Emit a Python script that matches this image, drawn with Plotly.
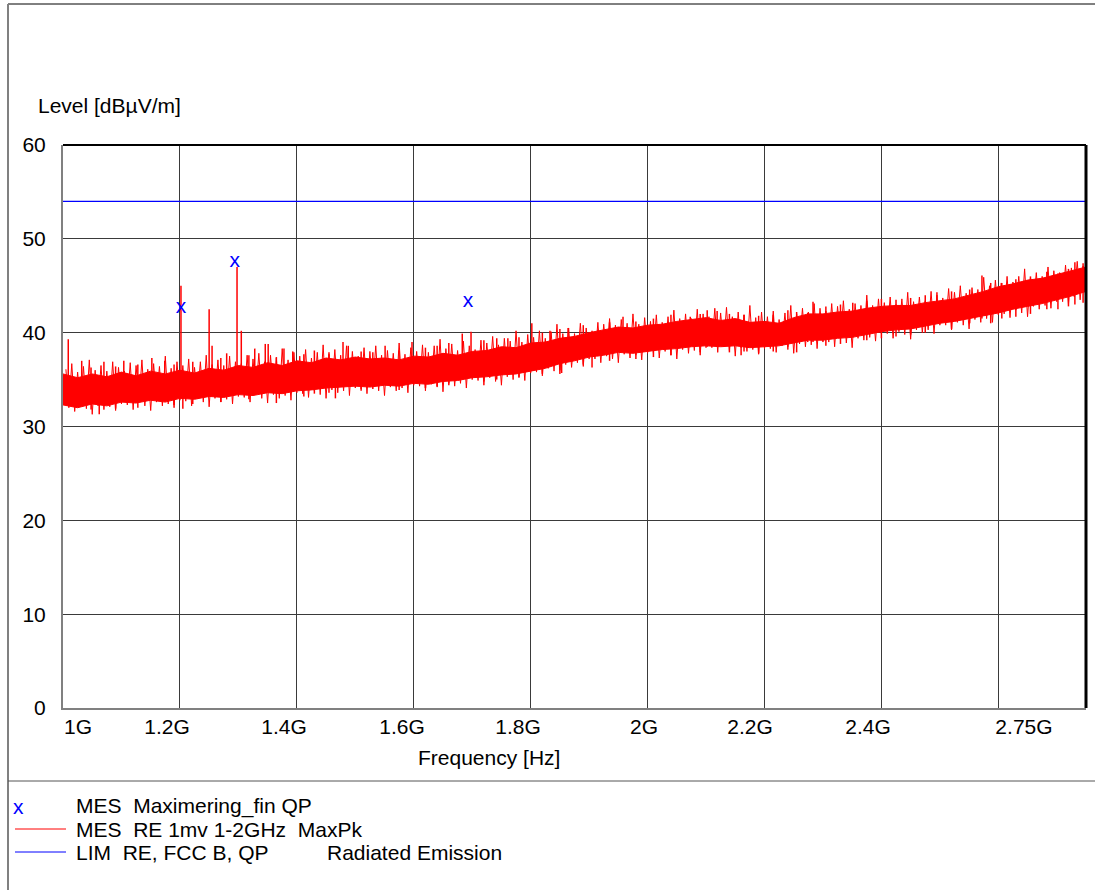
import numpy as np
import plotly.graph_objects as go

# ---------------- data ----------------
# envelope of the MaxPk sweep body (GHz, dBuV/m)
band_freq = [1.000, 1.025, 1.050, 1.075, 1.100, 1.125, 1.150, 1.175, 1.200, 1.225,
             1.250, 1.275, 1.300, 1.325, 1.350, 1.375, 1.400, 1.425, 1.450, 1.475,
             1.500, 1.525, 1.550, 1.575, 1.600, 1.625, 1.650, 1.675, 1.700, 1.725,
             1.750, 1.775, 1.800, 1.825, 1.850, 1.875, 1.900, 1.925, 1.950, 1.975,
             2.000, 2.025, 2.050, 2.075, 2.100, 2.125, 2.150, 2.175, 2.200, 2.225,
             2.250, 2.275, 2.300, 2.325, 2.350, 2.375, 2.400, 2.425, 2.450, 2.475,
             2.500, 2.525, 2.550, 2.575, 2.600, 2.625, 2.650, 2.675, 2.700, 2.725,
             2.750]
band_top = [35.6, 35.2, 35.6, 35.3, 35.8, 35.4, 35.9, 35.6, 36.0, 35.7,
            36.2, 36.0, 36.5, 36.3, 36.8, 36.5, 37.0, 36.8, 37.3, 37.1,
            37.4, 37.2, 37.3, 37.1, 37.5, 37.4, 37.8, 37.6, 38.0, 38.1,
            38.5, 38.4, 38.9, 39.0, 39.4, 39.6, 40.0, 40.3, 40.6, 40.5,
            40.8, 40.9, 41.2, 41.4, 41.6, 41.3, 41.5, 41.1, 41.2, 41.0,
            41.6, 42.0, 42.0, 42.2, 42.3, 42.6, 42.8, 42.9, 42.9, 43.2,
            43.4, 43.6, 44.0, 44.4, 44.9, 45.2, 45.6, 45.8, 46.2, 46.6,
            47.0]
band_bottom = [32.3, 32.0, 32.4, 32.2, 32.6, 32.5, 32.8, 32.6, 33.0, 32.9,
               33.2, 33.1, 33.4, 33.3, 33.6, 33.5, 33.8, 33.9, 34.1, 34.2,
               34.3, 34.2, 34.4, 34.3, 34.6, 34.5, 34.8, 34.9, 35.2, 35.3,
               35.5, 35.6, 35.9, 36.2, 36.7, 37.0, 37.4, 37.6, 37.9, 37.8,
               38.0, 38.2, 38.3, 38.5, 38.6, 38.5, 38.6, 38.4, 38.5, 38.6,
               38.9, 39.2, 39.2, 39.4, 39.5, 39.8, 40.1, 40.3, 40.4, 40.7,
               41.0, 41.2, 41.5, 41.8, 42.1, 42.5, 42.8, 43.1, 43.5, 43.9,
               44.4]

# sweep noise: alternating high / low samples, 1.005 .. 2.750 GHz every 5 MHz
noise_high = [36.1, 36.7, 35.8, 36.4, 37.1, 36.0, 36.5, 35.9, 36.9, 36.3,
              35.9, 36.8, 36.5, 37.1, 36.1, 36.7, 36.4, 37.5, 36.2, 36.9,
              36.5, 37.2, 36.3, 36.9, 37.6, 36.6, 37.1, 36.5, 37.5, 36.9,
              36.7, 37.6, 37.2, 37.8, 36.9, 37.6, 37.3, 38.3, 37.1, 37.9,
              37.5, 38.2, 37.3, 37.9, 38.7, 37.7, 38.2, 37.6, 38.6, 38.0,
              37.5, 38.4, 38.0, 38.6, 37.6, 38.1, 37.8, 38.9, 37.7, 38.4,
              38.0, 38.7, 37.9, 38.6, 39.3, 38.3, 38.8, 38.1, 39.1, 38.6,
              38.2, 39.2, 38.9, 39.6, 38.7, 39.4, 39.1, 40.2, 39.0, 39.8,
              39.5, 40.2, 39.4, 40.1, 40.9, 39.9, 40.5, 39.9, 41.0, 40.5,
              40.2, 41.1, 40.9, 41.5, 40.8, 41.4, 41.0, 42.0, 40.9, 41.6,
              41.2, 41.9, 41.1, 41.7, 42.4, 41.5, 42.0, 41.5, 42.5, 42.0,
              41.7, 42.6, 42.1, 42.7, 41.7, 42.2, 41.9, 42.9, 41.6, 42.2,
              41.7, 42.3, 41.4, 42.1, 42.9, 42.0, 42.6, 42.2, 43.1, 42.6,
              42.3, 43.1, 42.8, 43.4, 42.5, 43.1, 42.9, 44.0, 42.9, 43.6,
              43.2, 43.8, 43.0, 43.6, 44.3, 43.3, 43.8, 43.4, 44.4, 44.0,
              43.7, 44.7, 44.3, 45.0, 44.2, 44.8, 44.6, 45.9, 45.0, 45.6,
              45.3, 46.0, 45.4, 46.0, 46.8, 45.9, 46.4, 46.0, 47.0, 46.6,
              46.4, 47.2, 46.9, 47.6, 47.1]
noise_low = [32.0, 31.6, 32.3, 31.9, 31.3, 32.2, 31.8, 32.1, 31.7, 32.4,
             32.3, 31.8, 32.6, 32.2, 31.7, 32.6, 32.2, 32.4, 32.0, 32.8,
             32.7, 32.2, 33.0, 32.6, 32.1, 33.0, 32.6, 32.9, 32.4, 33.2,
             33.1, 32.6, 33.4, 33.0, 32.5, 33.4, 33.0, 33.3, 32.8, 33.6,
             33.5, 33.1, 33.8, 33.4, 33.0, 33.9, 33.6, 33.8, 33.3, 34.1,
             34.0, 33.5, 34.2, 33.8, 33.3, 34.2, 33.8, 34.1, 33.6, 34.4,
             34.3, 33.8, 34.5, 34.2, 33.7, 34.6, 34.3, 34.6, 34.1, 35.0,
             34.9, 34.4, 35.2, 34.8, 34.4, 35.3, 35.0, 35.3, 34.9, 35.7,
             35.8, 35.4, 36.2, 35.9, 35.6, 36.6, 36.3, 36.8, 36.4, 37.2,
             37.2, 36.8, 37.5, 37.2, 36.8, 37.7, 37.3, 37.6, 37.1, 37.8,
             37.8, 37.3, 38.0, 37.6, 37.2, 38.2, 37.8, 38.1, 37.6, 38.4,
             38.4, 37.9, 38.5, 38.1, 37.5, 38.4, 38.0, 38.2, 37.7, 38.3,
             38.3, 37.9, 38.6, 38.2, 37.8, 38.8, 38.5, 38.7, 38.3, 39.0,
             39.0, 38.5, 39.3, 38.9, 38.4, 39.4, 39.2, 39.5, 39.1, 39.9,
             39.9, 39.4, 40.1, 39.8, 39.3, 40.3, 40.0, 40.3, 39.9, 40.8,
             40.8, 40.3, 41.1, 40.8, 40.4, 41.4, 41.1, 41.5, 41.1, 41.9,
             42.0, 41.6, 42.4, 42.1, 41.7, 42.8, 42.5, 42.9, 42.6, 43.3,
             43.3, 43.0, 43.8, 43.5, 43.3]

# isolated peaks of the sweep (GHz, low dB, high dB)
spike_freq = [1.009, 1.032, 1.048, 1.062, 1.070, 1.090, 1.104, 1.128, 1.152, 1.174,
              1.190, 1.2018, 1.205, 1.222, 1.250, 1.255, 1.270, 1.280, 1.2977, 1.305,
              1.318, 1.328, 1.346, 1.351, 1.365, 1.378, 1.393, 1.412, 1.430, 1.455,
              1.466, 1.479, 1.488, 1.510, 1.530, 1.551, 1.575, 1.597, 1.620, 1.640,
              1.660, 1.683, 1.698, 1.720, 1.742, 1.761, 1.780, 1.802, 1.820, 1.833,
              1.850, 1.853, 1.864, 1.890, 1.905, 1.915, 1.935, 1.958, 1.980, 2.010,
              2.040, 2.073, 2.090, 2.102, 2.119, 2.140, 2.160, 2.165, 2.190, 2.215,
              2.240, 2.255, 2.274, 2.283, 2.305, 2.330, 2.351, 2.375, 2.400, 2.425,
              2.450, 2.475, 2.495, 2.520, 2.551, 2.572, 2.587, 2.606, 2.630, 2.655,
              2.683, 2.702, 2.720, 2.731, 2.745]
spike_low = [33.5, 33.0, 31.8, 31.3, 32.5, 31.9, 33.0, 32.0, 33.2, 33.0,
             32.3, 33.5, 31.9, 32.4, 34.0, 34.0, 32.6, 33.5, 34.0, 34.0,
             32.9, 34.0, 34.2, 34.2, 32.5, 34.5, 34.5, 33.2, 33.5, 33.6,
             33.0, 35.0, 35.0, 33.8, 34.0, 35.0, 33.9, 35.0, 34.1, 34.3,
             34.4, 36.0, 36.0, 34.8, 35.0, 35.5, 35.2, 36.0, 35.6, 36.5,
             36.0, 35.7, 37.0, 36.6, 36.3, 37.5, 37.0, 38.0, 37.2, 37.4,
             37.6, 38.5, 37.9, 38.5, 38.5, 37.9, 37.6, 38.0, 37.8, 38.0,
             38.5, 37.9, 39.0, 39.0, 38.6, 38.8, 39.5, 39.2, 39.4, 39.6,
             39.8, 40.0, 41.0, 40.4, 41.0, 41.5, 41.0, 41.5, 41.7, 42.0,
             42.5, 42.5, 42.8, 43.0, 43.2]
spike_high = [39.3, 37.0, 36.3, 34.0, 36.9, 36.4, 37.0, 36.6, 37.3, 37.0,
              36.6, 45.0, 34.5, 36.9, 42.5, 38.6, 37.3, 37.8, 47.0, 40.2,
              37.6, 38.3, 38.8, 38.8, 37.4, 38.3, 38.0, 37.7, 38.1, 37.9,
              35.5, 39.0, 38.6, 38.0, 37.9, 38.6, 38.1, 39.0, 38.4, 38.6,
              38.9, 39.9, 40.1, 39.2, 39.4, 39.4, 39.5, 41.0, 40.0, 40.2,
              40.4, 38.0, 40.5, 40.8, 38.5, 40.3, 41.1, 41.7, 41.2, 41.5,
              41.9, 41.7, 42.0, 42.4, 42.3, 42.0, 40.0, 41.9, 41.8, 41.9,
              42.4, 42.2, 42.1, 43.3, 42.8, 43.0, 43.2, 43.4, 43.6, 43.5,
              43.7, 44.0, 44.3, 44.4, 44.6, 46.1, 45.3, 45.3, 45.7, 46.0,
              46.5, 46.3, 46.8, 47.5, 47.4]

# final quasi-peak measurements
qp_freq = [1.2018, 1.294, 1.693]
qp_level = [42.7, 47.6, 43.3]

# limit line FCC class B
lim_freq = [1.0, 2.75]
lim_level = [54.0, 54.0]

# axes
x_range = [1.0, 2.75]
y_range = [0, 60]
grid_freq = [1.2, 1.4, 1.6, 1.8, 2.0, 2.2, 2.4, 2.6]
tick_label_freq = [1.0257, 1.1779, 1.3780, 1.5799, 1.7783, 1.9939, 2.1752, 2.3771, 2.6439]
tick_labels = ["1G", "1.2G", "1.4G", "1.6G", "1.8G", "2G", "2.2G", "2.4G", "2.75G"]

legend_texts = ["MES  Maximering_fin QP", "MES  RE 1mv 1-2GHz  MaxPk", "LIM  RE, FCC B, QP"]
legend_extra = "Radiated Emission"

# ---------------- figure ----------------
FONT = "Arial, 'Liberation Sans', Helvetica, sans-serif"
FS = 21
W, H = 1095, 890
L, R, T, B = 63, 1086, 145, 708


def px(xp):
    return (xp - L) / (R - L)


def py(yp):
    return (B - yp) / (B - T)


RED = "#ff0000"
BLUE = "#0000ff"

fig = go.Figure()

# band body
fig.add_trace(go.Scatter(
    x=band_freq + band_freq[::-1],
    y=band_top + band_bottom[::-1],
    fill="toself", fillcolor=RED, mode="lines",
    line=dict(color=RED, width=1), hoverinfo="skip", showlegend=False))

# sweep noise (zig-zag between high and low samples)
hi_f = np.round(np.arange(len(noise_high)) * 0.01 + 1.005, 3)
lo_f = np.round(np.arange(len(noise_low)) * 0.01 + 1.010, 3)
nx, ny = [], []
for fh, vh, fl, vl in zip(hi_f, noise_high, lo_f, noise_low):
    nx += [float(fh), float(fl)]
    ny += [vh, vl]
fig.add_trace(go.Scatter(x=nx, y=ny, mode="lines",
                         line=dict(color=RED, width=1),
                         hoverinfo="skip", showlegend=False))

# peaks and dips
sx, sy = [], []
for f, lo, hi in zip(spike_freq, spike_low, spike_high):
    sx += [f, f, None]
    sy += [lo, hi, None]
fig.add_trace(go.Scatter(x=sx, y=sy, mode="lines",
                         line=dict(color=RED, width=1.5),
                         hoverinfo="skip", showlegend=False))

# limit
fig.add_trace(go.Scatter(x=lim_freq, y=lim_level, mode="lines", xaxis="x2",
                         line=dict(color=BLUE, width=1.2), showlegend=False))

# QP markers
fig.add_trace(go.Scatter(x=qp_freq, y=qp_level, mode="text", text=["x"] * len(qp_freq),
                         textposition="middle center",
                         textfont=dict(family=FONT, size=FS, color=BLUE),
                         showlegend=False))

annotations = [
    dict(text="Level [dBµV/m]", x=px(36), y=py(105), xref="paper", yref="paper",
         xanchor="left", yanchor="middle", showarrow=False,
         font=dict(family=FONT, size=FS, color="black")),
    dict(text="Frequency [Hz]", x=px(489), y=py(757), xref="paper", yref="paper",
         xanchor="center", yanchor="middle", showarrow=False,
         font=dict(family=FONT, size=FS, color="black")),
    dict(text="x", x=px(18), y=py(806), xref="paper", yref="paper",
         xanchor="center", yanchor="middle", showarrow=False,
         font=dict(family=FONT, size=FS, color=BLUE)),
]
rows = [806, 829, 852]
for t, r in zip(legend_texts, rows):
    annotations.append(dict(text=t, x=px(74), y=py(r), xref="paper", yref="paper",
                            xanchor="left", yanchor="middle", showarrow=False,
                            font=dict(family=FONT, size=FS, color="black")))
annotations.append(dict(text=legend_extra, x=px(325), y=py(852), xref="paper", yref="paper",
                        xanchor="left", yanchor="middle", showarrow=False,
                        font=dict(family=FONT, size=FS, color="black")))

shapes = [
    # plot frame top / right
    dict(type="line", xref="paper", yref="paper", x0=0, x1=1, y0=1, y1=1,
         line=dict(color="black", width=2)),
    dict(type="line", xref="paper", yref="paper", x0=1, x1=1, y0=0, y1=1,
         line=dict(color="black", width=3)),
    # outer frame
    dict(type="line", xref="paper", yref="paper", x0=px(8), x1=px(1095), y0=py(4), y1=py(4),
         line=dict(color="black", width=1)),
    dict(type="line", xref="paper", yref="paper", x0=px(8), x1=px(8), y0=py(4), y1=py(890),
         line=dict(color="#808080", width=2)),
    dict(type="line", xref="paper", yref="paper", x0=px(8), x1=px(1095), y0=py(781), y1=py(781),
         line=dict(color="#555555", width=1)),
    # legend symbols
    dict(type="line", xref="paper", yref="paper", x0=px(15), x1=px(66), y0=py(829), y1=py(829),
         line=dict(color=RED, width=1)),
    dict(type="line", xref="paper", yref="paper", x0=px(15), x1=px(66), y0=py(852), y1=py(852),
         line=dict(color=BLUE, width=1)),
]

fig.update_layout(
    width=W, height=H, autosize=False,
    margin=dict(l=L, r=W - R, t=T, b=H - B, pad=0),
    paper_bgcolor="white", plot_bgcolor="white",
    font=dict(family=FONT, size=FS, color="black"),
    showlegend=False,
    xaxis=dict(range=x_range, tickmode="array", tickvals=grid_freq,
               showticklabels=False, ticks="", showgrid=True,
               gridcolor="#3a3a3a", gridwidth=1, zeroline=False,
               showline=True, linecolor="#808080", linewidth=2),
    xaxis2=dict(range=x_range, overlaying="x", anchor="y", side="bottom",
                tickmode="array", tickvals=tick_label_freq, ticktext=tick_labels,
                ticks="", showgrid=False, zeroline=False, showline=False,
                tickfont=dict(family=FONT, size=FS, color="black"),
                ticklabelstandoff=4),
    yaxis=dict(range=y_range, tickmode="linear", tick0=0, dtick=10,
               ticks="", showgrid=True, gridcolor="#3a3a3a", gridwidth=1,
               zeroline=False, showline=True, linecolor="#808080", linewidth=2,
               tickfont=dict(family=FONT, size=FS, color="black"),
               ticklabelstandoff=11),
    annotations=annotations,
    shapes=shapes,
)

fig.write_html("out.html",
               config={"displayModeBar": False},
               post_script="document.body.style.margin='0px';"
                           "document.body.style.overflow='hidden';")
